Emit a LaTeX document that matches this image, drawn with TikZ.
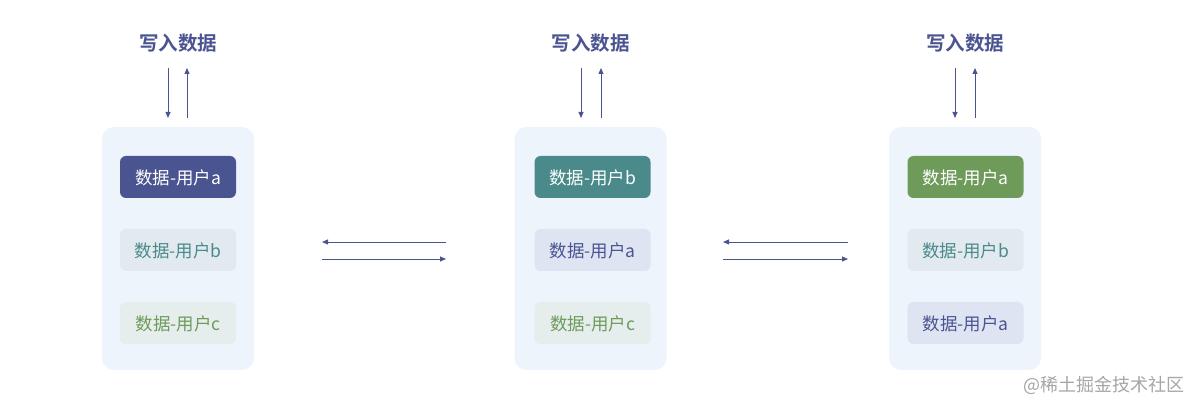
\documentclass[tikz,border=0pt]{standalone}
\usepackage{fontspec}
\setmainfont{Noto Sans CJK SC}
\newfontfamily\cjkb{Noto Sans CJK SC Bold}
\usetikzlibrary{arrows.meta}
\definecolor{cblue}{HTML}{4A5490}
\definecolor{cteal}{HTML}{4A8A8A}
\definecolor{cgreen}{HTML}{6E9A5A}
\definecolor{cont}{HTML}{EEF4FC}
\definecolor{lblue}{HTML}{DFE4F3}
\definecolor{lteal}{HTML}{E2EAF0}
\definecolor{lgreen}{HTML}{E5EEEC}
\tikzset{
 container/.style={fill=cont, rounded corners=12pt, minimum width=152pt, minimum height=243pt},
 item/.style={rounded corners=6pt, minimum width=116pt, minimum height=42pt, text depth=0pt, font=\fontsize{17.5}{19}\selectfont},
 title/.style={font=\cjkb\fontsize{19.5}{21}\selectfont, text=cblue},
 arr/.style={draw=cblue, line width=0.8pt, -{Triangle[length=6pt,width=5pt]}}
}
\begin{document}
\begin{tikzpicture}[x=1pt,y=-1pt]
\useasboundingbox[fill=white] (0,0) rectangle (1200,411);
\foreach \cx/\n in {178/L,590.5/M,965/R}{
 \node[container] (c\n) at (\cx,248.5) {};
 \node[title] (t\n) at (\cx,43) {写入数据};
}
\node[item, fill=cblue, text=white] (L1) at (178,177) {数据-用户a};
\node[item, fill=lteal, text=cteal] (L2) at (178,250) {数据-用户b};
\node[item, fill=lgreen, text=cgreen] (L3) at (178,323) {数据-用户c};
\node[item, fill=cteal, text=white] (M1) at (592.5,177) {数据-用户b};
\node[item, fill=lblue, text=cblue] (M2) at (592.5,250) {数据-用户a};
\node[item, fill=lgreen, text=cgreen] (M3) at (592.5,323) {数据-用户c};
\node[item, fill=cgreen, text=white] (R1) at (965.5,177) {数据-用户a};
\node[item, fill=lteal, text=cteal] (R2) at (965.5,250) {数据-用户b};
\node[item, fill=lblue, text=cblue] (R3) at (965.5,323) {数据-用户a};
\foreach \a/\b/\n in {168/187/L,581/601/M,955/975/R}{
 \coordinate (d1\n) at (\a,68); \coordinate (d2\n) at (\a,118);
 \coordinate (u1\n) at (\b,118); \coordinate (u2\n) at (\b,68);
 \draw[arr] (d1\n) -- (d2\n);
 \draw[arr] (u1\n) -- (u2\n);
}
\coordinate (h1a) at (446,242); \coordinate (h1b) at (322,242);
\coordinate (h2a) at (322,259); \coordinate (h2b) at (446,259);
\coordinate (h3a) at (848,242); \coordinate (h3b) at (723,242);
\coordinate (h4a) at (723,259); \coordinate (h4b) at (848,259);
\draw[arr] (h1a) -- (h1b);
\draw[arr] (h2a) -- (h2b);
\draw[arr] (h3a) -- (h3b);
\draw[arr] (h4a) -- (h4b);
\node[text=gray!70, font=\fontsize{18}{20}\selectfont, anchor=east] (wm) at (1188,385) {@稀土掘金技术社区};
\end{tikzpicture}
\end{document}
